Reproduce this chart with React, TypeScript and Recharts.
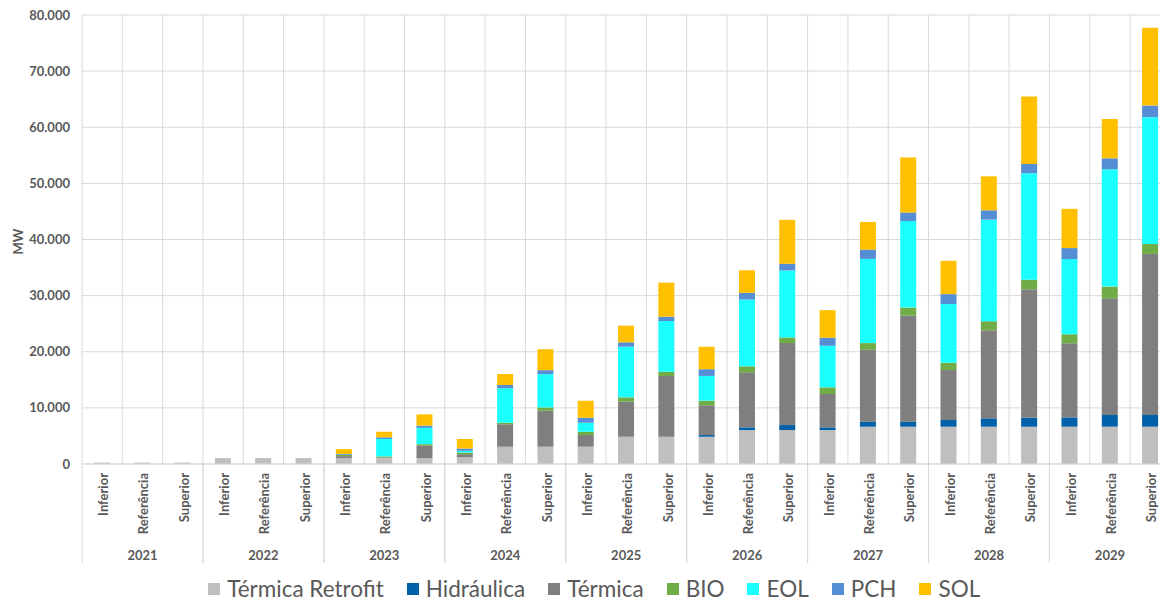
import React from 'react';
import { BarChart, Bar, XAxis, YAxis, CartesianGrid, Legend } from 'recharts';

const years = ['2021', '2022', '2023', '2024', '2025', '2026', '2027', '2028', '2029'];
const scenarios = ['Inferior', 'Referência', 'Superior'];

const termicaRetrofit = [250, 250, 250, 1050, 1050, 1050, 1050, 1050, 1050, 1200, 3080, 3080, 3080, 4860, 4860, 4860, 6050, 6050, 6050, 6650, 6650, 6650, 6650, 6650, 6650, 6650, 6650];
const hidraulica = [0, 0, 0, 0, 0, 0, 0, 0, 0, 0, 0, 0, 0, 0, 0, 300, 480, 890, 480, 900, 900, 1190, 1490, 1600, 1660, 2080, 2080];
const termica = [0, 0, 0, 0, 0, 0, 350, 100, 2260, 550, 3990, 6400, 2080, 6240, 10820, 5300, 9800, 14600, 5940, 12800, 18900, 8900, 15700, 22900, 13200, 20800, 28700];
const bio = [0, 0, 0, 0, 0, 0, 250, 200, 230, 300, 290, 600, 590, 780, 770, 830, 1070, 1000, 1190, 1190, 1430, 1300, 1600, 1660, 1600, 2080, 1780];
const eol = [0, 0, 0, 0, 0, 0, 0, 3100, 2900, 300, 6130, 5930, 1600, 9020, 9030, 4400, 11900, 11940, 7400, 15000, 15400, 10450, 18100, 19000, 13400, 20900, 22580];
const pch = [0, 0, 0, 0, 0, 0, 150, 300, 400, 400, 590, 710, 890, 780, 770, 1200, 1190, 1190, 1430, 1660, 1540, 1780, 1660, 1660, 1960, 1960, 2070];
const sol = [0, 0, 0, 0, 0, 0, 850, 1000, 2000, 1700, 1960, 3740, 3030, 2970, 6060, 4000, 4030, 7840, 4930, 4930, 9800, 5940, 6060, 12000, 7000, 7000, 13850];

const yTicks = [0, 10000, 20000, 30000, 40000, 50000, 60000, 70000, 80000];

const SERIES = [
  { key: 'retrofit', name: 'Térmica Retrofit', color: '#BFBFBF', values: termicaRetrofit },
  { key: 'hidraulica', name: 'Hidráulica', color: '#0060A8', values: hidraulica },
  { key: 'termica', name: 'Térmica', color: '#7F7F7F', values: termica },
  { key: 'bio', name: 'BIO', color: '#70AD47', values: bio },
  { key: 'eol', name: 'EOL', color: '#1CFFFF', values: eol },
  { key: 'pch', name: 'PCH', color: '#558ED5', values: pch },
  { key: 'sol', name: 'SOL', color: '#FFC000', values: sol },
];

const data = years.flatMap((year, yi) =>
  scenarios.map((scenario, si) => {
    const i = yi * 3 + si;
    const row: Record<string, any> = { id: `${year}-${scenario}`, year, scenario };
    SERIES.forEach((s) => {
      row[s.key] = s.values[i];
    });
    return row;
  })
);

const CHART_W = 1180;
const CHART_H = 602;
const MARGIN = { top: 15, right: 9.6, left: 0, bottom: 0 };
const Y_W = 82;
const GRID = '#D9D9D9';
const TEXT = '#595959';
const FONT = 'Lato, "Open Sans", sans-serif';

const fmt = (v: number) => {
  if (v === 0) return '0';
  const s = String(Math.round(v));
  return s.replace(/\B(?=(\d{3})+(?!\d))/g, '.');
};

const CategoryTick = (props: any) => {
  const { x, y, payload, index, width, visibleTicksCount } = props;
  const n = visibleTicksCount || data.length;
  const bw = typeof width === 'number' && width > 0 ? width / n : (CHART_W - Y_W - MARGIN.right) / data.length;
  const row = data[index] || {};
  const scenario = row.scenario || String(payload.value).split('-')[1];
  return (
    <g>
      <text
        transform={`translate(${x + 1},${y + 9}) rotate(-90)`}
        textAnchor="end"
        dominantBaseline="central"
        fontFamily={FONT}
        fontWeight="bold"
        fontSize={13}
        fill={TEXT}
      >
        {scenario}
      </text>
      {index % 3 === 0 && (
        <line x1={x - bw / 2} x2={x - bw / 2} y1={y} y2={y + 99} stroke={GRID} strokeWidth={1} />
      )}
      {index % 3 === 2 && (
        <line x1={x + bw / 2} x2={x + bw / 2} y1={y} y2={y + 99} stroke={GRID} strokeWidth={1} />
      )}
      {index % 3 === 1 && (
        <text
          x={x}
          y={y + 91}
          textAnchor="middle"
          dominantBaseline="central"
          fontFamily={FONT}
          fontWeight="bold"
          fontSize={13}
          fill={TEXT}
        >
          {row.year}
        </text>
      )}
    </g>
  );
};

const LegendContent = (props: any) => {
  const raw = props.payload || [];
  const order = SERIES.map((s) => s.name);
  const payload = [...raw].sort((a: any, b: any) => order.indexOf(a.value) - order.indexOf(b.value));
  return (
    <div
      style={{
        display: 'flex',
        justifyContent: 'center',
        alignItems: 'center',
        height: 27,
        paddingTop: 12,
        paddingLeft: 18,
        fontFamily: FONT,
        fontSize: 22.5,
        color: TEXT,
        whiteSpace: 'nowrap',
      }}
    >
      {payload.map((entry: any, i: number) => (
        <div key={i} style={{ display: 'flex', alignItems: 'center', marginRight: i < payload.length - 1 ? 23 : 0 }}>
          <span style={{ display: 'inline-block', width: 12, height: 12, background: entry.color, marginRight: 7 }} />
          <span>{entry.value}</span>
        </div>
      ))}
    </div>
  );
};

export default function App() {
  return (
    <div style={{ position: 'absolute', left: 0, top: 0, width: 1160, height: 602, overflow: 'hidden', background: '#fff' }}>
      <BarChart width={CHART_W} height={CHART_H} data={data} margin={MARGIN} barSize={16}>
        <CartesianGrid
          stroke={GRID}
          strokeWidth={1}
          verticalCoordinatesGenerator={(p: any) => {
            const off = p.offset;
            const out: number[] = [];
            for (let i = 0; i <= data.length; i++) out.push(off.left + (i * off.width) / data.length);
            return out;
          }}
        />
        <XAxis
          dataKey="id"
          type="category"
          interval={0}
          height={99}
          tickLine={false}
          tickSize={0}
          tickMargin={0}
          axisLine={{ stroke: GRID }}
          tick={<CategoryTick />}
        />
        <YAxis
          width={Y_W}
          domain={[0, 80000]}
          ticks={yTicks}
          interval={0}
          axisLine={false}
          tickLine={false}
          tickSize={0}
          tickMargin={12}
          tickFormatter={fmt}
          tick={{ fill: TEXT, fontFamily: FONT, fontWeight: 'bold', fontSize: 13 }}
          label={{
            value: 'MW',
            content: (p: any) => {
              const vb = p.viewBox || { x: 0, y: 15, width: 82, height: 449 };
              const cx = vb.x + 18;
              const cy = vb.y + vb.height / 2 + 2;
              return (
                <text
                  transform={`translate(${cx},${cy}) rotate(-90)`}
                  textAnchor="middle"
                  dominantBaseline="central"
                  fontFamily={FONT}
                  fontWeight="bold"
                  fontSize={13}
                  fill={TEXT}
                >
                  MW
                </text>
              );
            },
          }}
        />
        <Legend verticalAlign="bottom" height={39} itemSorter={null as any} content={<LegendContent />} />
        {SERIES.map((s) => (
          <Bar key={s.key} dataKey={s.key} name={s.name} stackId="a" fill={s.color} isAnimationActive={false} />
        ))}
      </BarChart>
    </div>
  );
}
